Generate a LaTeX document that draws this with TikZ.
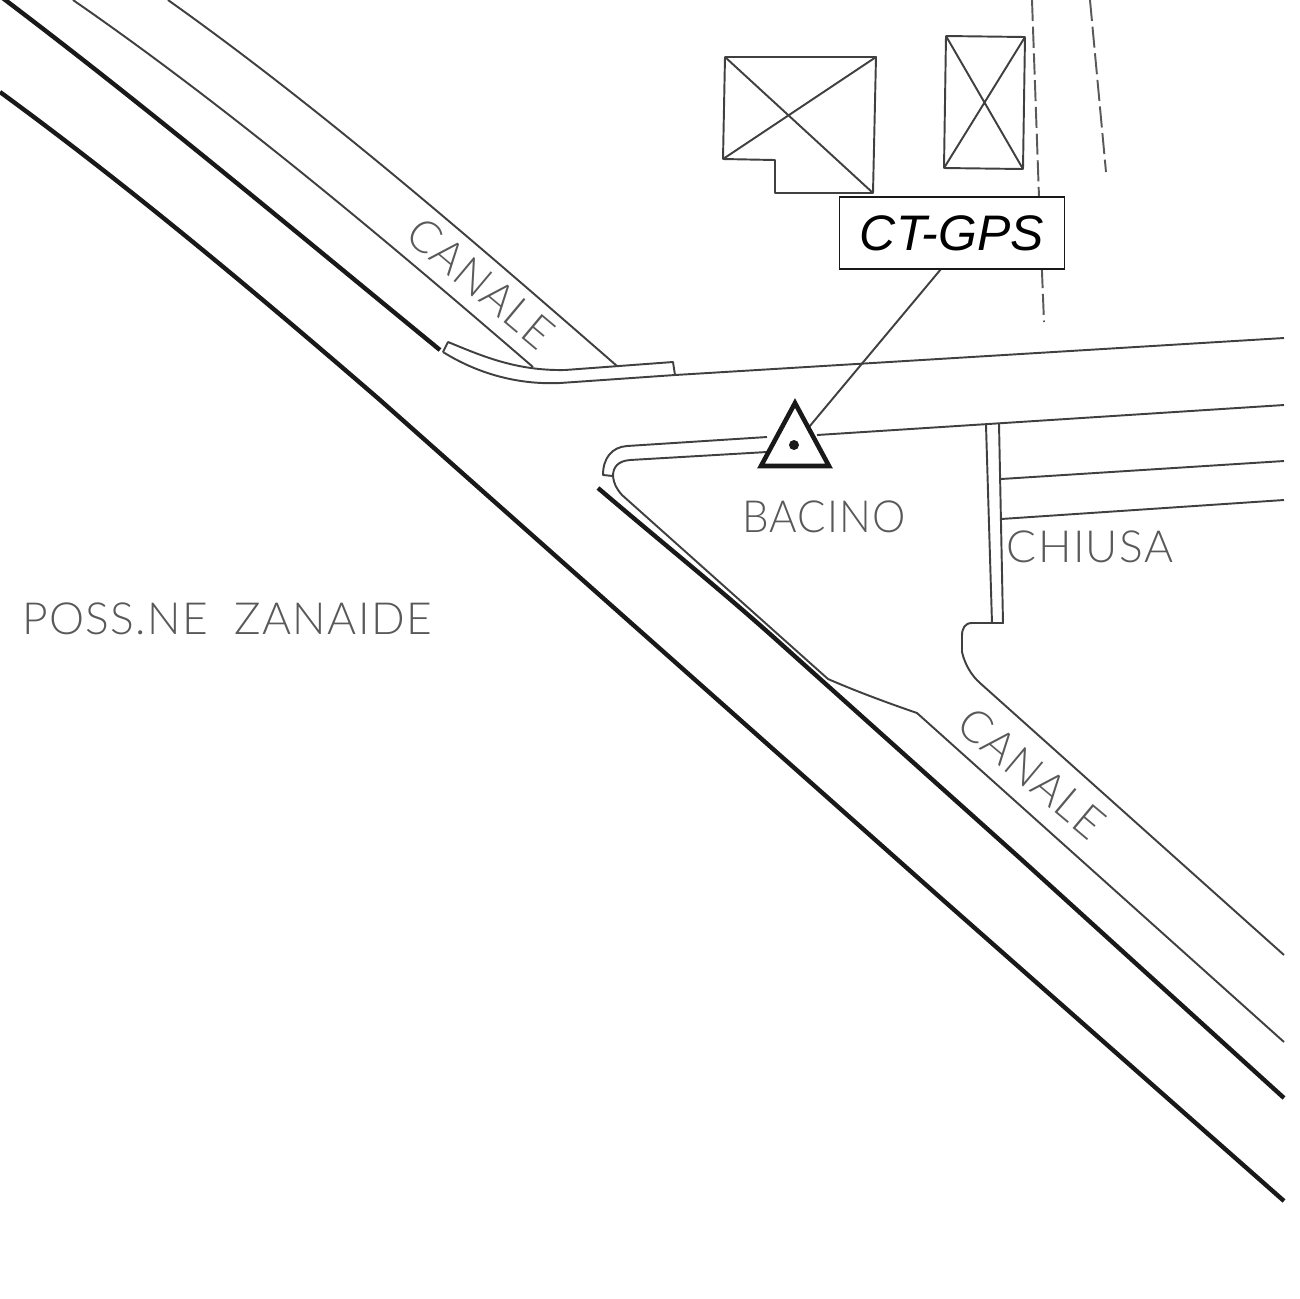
\documentclass[tikz,border=0pt]{standalone}
\usepackage{fontspec}
\setmainfont{Liberation Sans}
\newfontfamily\mapfont[LetterSpace=3]{Lato Light}
\usetikzlibrary{positioning,calc}

\tikzset{
	bank/.style={line width=.55pt,draw=black!75,line join=round},
	edge/.style={line width=1.25pt,draw=black!90,line join=round},
	track/.style={line width=.55pt,draw=black!65,dash pattern=on 6pt off 1.6pt},
	maplabel/.style={inner sep=0pt,text=black!65,font=\mapfont\fontsize{12.6}{14}\selectfont},
	tagbox/.style={draw=black!90,line width=.5pt,fill=white,inner sep=0pt,minimum width=22.5mm,minimum height=7.2mm,font=\itshape\fontsize{14.2}{16}\selectfont},
	gpspoint/.style={circle,fill=black!90,inner sep=0pt,minimum size=.1cm}
}

\begin{document}
\begin{tikzpicture}[x=0.01cm,y=-0.01cm]
	\useasboundingbox (0,0) rectangle (1299,1299);
	% heavy banks
	\draw[edge] (0,-4) .. controls (147,107) and (290,227) .. (440,350);
	\draw[edge] (0,92) .. controls (130,187) and (255,292) .. (380,400) -- (943,900) -- (1284,1201);
	\draw[edge] (598,488) .. controls (660,541) and (720,589) .. (780,643) -- (1022,860) -- (1284,1098);
	% upper canal
	\draw[bank] (73,0) .. controls (225,105) and (380,235) .. (533,367);
	\draw[bank] (168,0) .. controls (320,108) and (470,238) .. (617,366);
	\draw[bank] (443,352) -- (448,342) .. controls (480,355) and (515,371) .. (565,370) -- (673,362) -- (675,375);
	\draw[bank] (443,352) .. controls (475,372) and (515,385) .. (560,383) -- (675,375) -- (1284,338);
	% basin
	\draw[bank] (613,476) -- (603,475) .. controls (603,458) and (612,447) .. (627,446) -- (767,437);
	\draw[bank] (613,476) .. controls (613,467) and (618,461) .. (630,460) -- (767,452);
	\draw[bank] (613,476) .. controls (614,484) and (616,488) .. (622,495) -- (828,679) .. controls (858,692) and (888,703) .. (917,713) -- (1284,1042);
	\draw[bank] (817,435) -- (1284,405);
	% lock
	\draw[bank] (986,425) -- (992,623);
	\draw[bank] (999,423) -- (1003,623) -- (972,623) .. controls (965,623) and (962,628) .. (962,636) -- (962,652) .. controls (965,665) and (972,676) .. (980,683) -- (1284,955);
	\draw[bank] (1001,479) -- (1284,461);
	\draw[bank] (1001,519) -- (1284,500);
	% buildings
	\draw[bank] (725,57) -- (876,57) -- (873,193) -- (775,193) -- (775,160) -- (723,159) -- cycle;
	\draw[bank] (725,57) -- (873,193) (876,57) -- (723,159);
	\draw[bank] (946,36) -- (1025,37) -- (1023,169) -- (944,168) -- cycle;
	\draw[bank] (946,36) -- (1023,169) (1025,37) -- (944,168);
	\draw[track] (1032,0) -- (1039,197) -- (1044,322);
	\draw[track] (1090,0) -- (1106,172);
	% station
	\coordinate (ctfoot) at (941,269);
	\node[gpspoint] (gpsdot) at (794,445) {};
	\draw[bank] (ctfoot) -- (gpsdot);
	\draw[line width=1.3pt,draw=black!90,fill=white,miter limit=10] (795,403) -- (829,466) -- (761,466) -- cycle;
	\node[gpspoint] at (gpsdot) {};
	\node[tagbox] (ctgps) at (952,233) {CT-GPS};
	% names
	\node[maplabel,rotate=-40] (canalup) at (481,283) {CANALE};
	\node[maplabel,rotate=-40] (canaldown) at (1032,773) {CANALE};
	\node[maplabel,xscale=.95] (bacino) at (824,517) {BACINO};
	\node[maplabel] (chiusa) at (1090,547) {CHIUSA};
	\node[maplabel] (zanaide) at (227,619) {POSS.NE\ \ ZANAIDE};
\end{tikzpicture}
\end{document}
